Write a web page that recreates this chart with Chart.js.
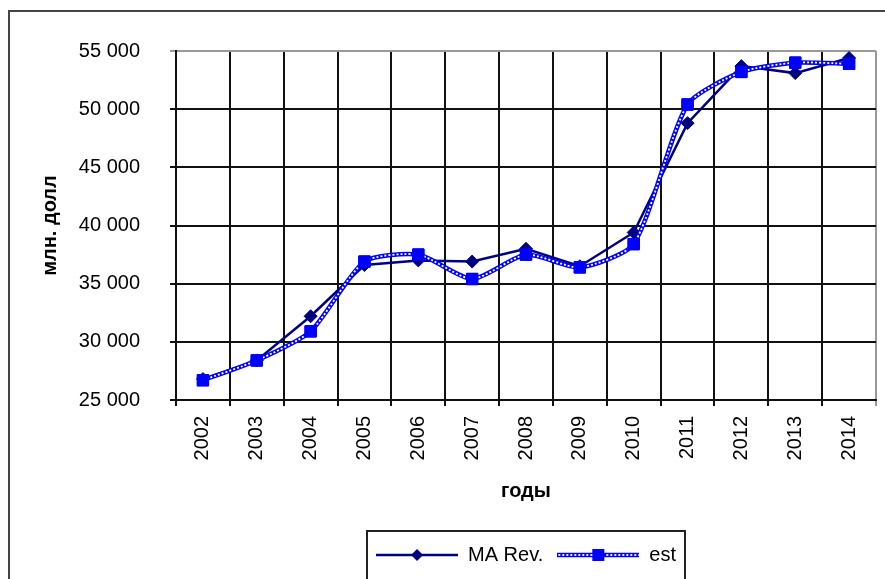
<!DOCTYPE html>
<html>
<head>
<meta charset="utf-8">
<script src="https://cdn.jsdelivr.net/npm/chart.js@4/dist/chart.umd.min.js"></script>
<style>
html,body{margin:0;padding:0;background:#fff;}
canvas{display:block;}
</style>
</head>
<body>
<canvas id="c" width="885" height="579"></canvas>
<script>
// ---- data ----
const years = ['2002','2003','2004','2005','2006','2007','2008','2009','2010','2011','2012','2013','2014'];
const maRev = [26800, 28400, 32200, 36600, 37000, 36900, 38000, 36500, 39400, 48800, 53700, 53100, 54400];
const est   = [26700, 28400, 30900, 36900, 37500, 35400, 37500, 36400, 38400, 50400, 53200, 54000, 53900];
const seriesNames = ['MA Rev.', 'est'];
const yTitle = 'млн. долл';
const xTitle = 'годы';

const NAVY = '#000080', BLUE = '#0000FF';
const FONT = '"Liberation Sans", Arial, sans-serif';

function fmt(v){ return String(v).replace(/\B(?=(\d{3})+(?!\d))/g, ' '); }

function legendImg(kind){
  const c = document.createElement('canvas');
  const W = 82;
  c.width = W; c.height = 16;
  const g = c.getContext('2d');
  const m = W / 2;
  if (kind === 'ma') {
    g.strokeStyle = NAVY; g.lineWidth = 2.5;
    g.beginPath(); g.moveTo(0, 8); g.lineTo(W, 8); g.stroke();
    g.fillStyle = NAVY;
    g.beginPath(); g.moveTo(m, 2); g.lineTo(m + 6, 8); g.lineTo(m, 14); g.lineTo(m - 6, 8); g.closePath(); g.fill();
  } else {
    g.strokeStyle = BLUE; g.lineWidth = 4.5;
    g.beginPath(); g.moveTo(0, 8); g.lineTo(W, 8); g.stroke();
    g.strokeStyle = '#fff'; g.lineWidth = 1.8; g.setLineDash([2, 2]);
    g.beginPath(); g.moveTo(1, 8); g.lineTo(W, 8); g.stroke();
    g.fillStyle = BLUE;
    g.fillRect(m - 6, 2, 12, 12);
  }
  return c;
}
const legendImgs = [legendImg('ma'), legendImg('est')];

const framePlugin = {
  id: 'frame',
  beforeDraw(chart){
    const ctx = chart.ctx;
    ctx.save();
    ctx.fillStyle = '#fff';
    ctx.fillRect(0, 0, chart.width, chart.height);
    ctx.strokeStyle = '#444';
    ctx.lineWidth = 2;
    ctx.strokeRect(9, 11, chart.width + 20, chart.height + 20);
    ctx.restore();
  },
  afterDatasetDraw(chart, args){
    if (args.index !== 1) return;
    const ctx = chart.ctx;
    const line = args.meta.dataset;
    ctx.save();
    ctx.strokeStyle = '#fff';
    ctx.lineWidth = 1.8;
    ctx.setLineDash([2, 2]);
    ctx.beginPath();
    line.path(ctx);
    ctx.stroke();
    ctx.restore();
    args.meta.data.forEach(p => p.draw(ctx, chart.chartArea));
  },
  afterDraw(chart){
    const lg = chart.legend;
    if (!lg || !lg.legendHitBoxes || !lg.legendHitBoxes.length) return;
    const hb = lg.legendHitBoxes;
    let l = Infinity, r = -Infinity, t = Infinity, b = -Infinity;
    hb.forEach(h => { l = Math.min(l, h.left); r = Math.max(r, h.left + h.width); t = Math.min(t, h.top); b = Math.max(b, h.top + h.height); });
    const ctx = chart.ctx;
    ctx.save();
    ctx.strokeStyle = '#222';
    ctx.lineWidth = 2;
    ctx.strokeRect(Math.round(l - 9), Math.round(t - 14), Math.round(r - l + 18), Math.round(b - t + 29));
    ctx.restore();
  }
};

new Chart(document.getElementById('c'), {
  type: 'line',
  data: {
    labels: years,
    datasets: [
      {
        label: seriesNames[0],
        data: maRev,
        borderColor: NAVY,
        backgroundColor: NAVY,
        borderWidth: 2.5,
        tension: 0,
        pointStyle: 'rectRot',
        pointRadius: 6.5,
        pointBorderWidth: 1,
        pointBackgroundColor: NAVY,
        pointBorderColor: NAVY,
        order: 1
      },
      {
        label: seriesNames[1],
        data: est,
        borderColor: BLUE,
        backgroundColor: BLUE,
        borderWidth: 4.5,
        tension: 0.22,
        pointStyle: 'rect',
        pointRadius: 8,
        pointBorderWidth: 1,
        pointBackgroundColor: BLUE,
        pointBorderColor: BLUE,
        order: 0
      }
    ]
  },
  options: {
    responsive: false,
    animation: false,
    devicePixelRatio: 1,
    layout: { padding: { left: 30, right: 8, top: 51, bottom: 4 } },
    plugins: {
      tooltip: { enabled: false },
      legend: {
        position: 'bottom',
        fullSize: false,
        labels: {
          usePointStyle: true,
          pointStyleWidth: 82,
          boxHeight: 16,
          padding: 14,
          color: '#000',
          font: { family: FONT, size: 20 },
          sort: (a, b) => a.datasetIndex - b.datasetIndex,
          generateLabels(chart){
            return chart.data.datasets.map((ds, i) => ({
              text: ds.label,
              pointStyle: legendImgs[i],
              fillStyle: ds.borderColor,
              strokeStyle: ds.borderColor,
              lineWidth: 0,
              hidden: false,
              datasetIndex: i,
              fontColor: '#000'
            }));
          }
        }
      }
    },
    scales: {
      x: {
        offset: true,
        grid: {
          offset: true,
          color: c => c.type === 'tick' ? '#111' : '#999',
          lineWidth: 2,
          tickLength: 6,
          drawTicks: true
        },
        border: { color: '#111', width: 2 },
        ticks: {
          minRotation: 90,
          maxRotation: 90,
          padding: 10,
          color: '#000',
          font: { family: FONT, size: 20 }
        },
        title: {
          display: true,
          text: xTitle,
          color: '#000',
          font: { family: FONT, size: 20, weight: 'bold' },
          padding: { top: 4, bottom: 28 }
        },
        afterFit(s){ s.height = 131; }
      },
      y: {
        min: 25000,
        max: 55000,
        grid: {
          color: c => (c.tick && c.tick.value === 55000) ? '#999' : '#111',
          lineWidth: 2,
          tickLength: 6
        },
        border: { color: '#111', width: 2 },
        ticks: {
          stepSize: 5000,
          padding: 30,
          color: '#000',
          font: { family: FONT, size: 20 },
          callback: v => fmt(v)
        },
        title: {
          display: true,
          text: yTitle,
          color: '#000',
          font: { family: FONT, size: 20, weight: 'bold' },
          padding: { top: 8, bottom: 0 }
        },
        afterFit(s){ s.width = 146; }
      }
    }
  },
  plugins: [framePlugin]
});
</script>
</body>
</html>
